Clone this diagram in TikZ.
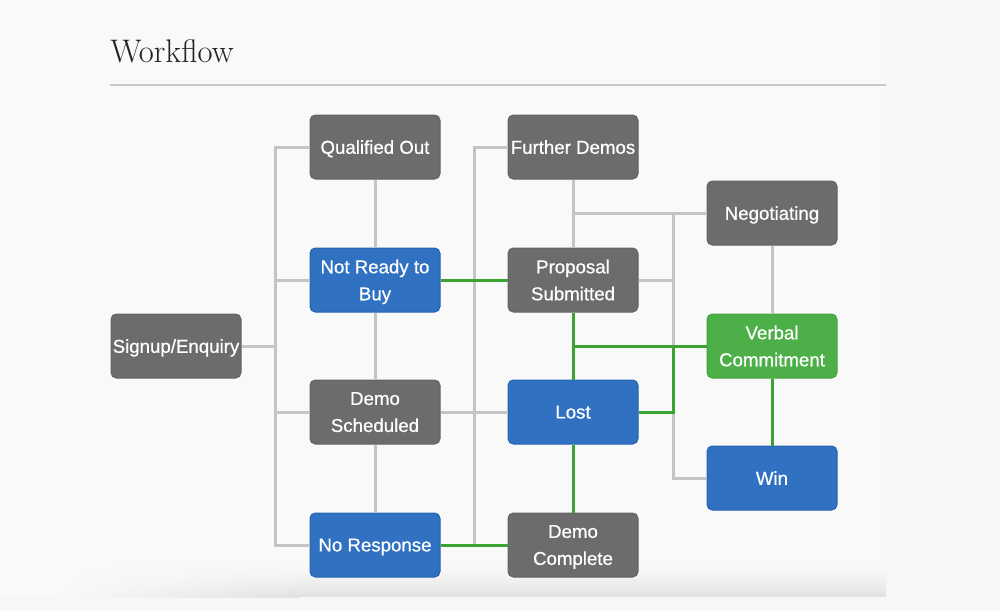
\documentclass[tikz,border=0pt]{standalone}
\usepackage{fontspec}
\setsansfont{Liberation Sans}
\newfontfamily\boxfont{Liberation Sans}[FakeBold=0.6]
\definecolor{pagebg}{HTML}{F7F7F7}
\definecolor{panelbg}{HTML}{F9F9F9}
\definecolor{shadowc}{HTML}{E2E2E2}
\definecolor{boxgray}{HTML}{6C6C6C}
\definecolor{boxgrayedge}{HTML}{636363}
\definecolor{boxblue}{HTML}{3072C1}
\definecolor{boxblueedge}{HTML}{2563B0}
\definecolor{boxgreen}{HTML}{4CAF48}
\definecolor{boxgreenedge}{HTML}{44A340}
\definecolor{linegray}{HTML}{C4C4C4}
\definecolor{linegreen}{HTML}{3AA332}
\definecolor{rulegray}{HTML}{C8C8C8}
\definecolor{titlec}{HTML}{222222}
\tikzset{
  wbox/.style={rounded corners=4pt, minimum width=97.5pt, minimum height=48pt,
    inner sep=0pt, align=center, text=white, text depth=-2.5pt,
    font=\boxfont\fontsize{14}{20.25}\selectfont, line width=0.75pt},
  graybox/.style={wbox, fill=boxgray, draw=boxgrayedge},
  bluebox/.style={wbox, fill=boxblue, draw=boxblueedge},
  greenbox/.style={wbox, fill=boxgreen, draw=boxgreenedge},
  gline/.style={draw=linegray, line width=2.25pt},
  vline/.style={draw=linegreen, line width=2.25pt},
}
\begin{document}
\begin{tikzpicture}[x=0.75pt, y=-0.75pt]
\useasboundingbox (0,0) rectangle (1000,611);
\fill[pagebg] (0,0) rectangle (1000,611);
\fill[panelbg] (0,0) rectangle (886,597);
% bottom shadow, built from thin strips
\foreach \i in {0,...,13} {
  \pgfmathsetmacro{\t}{int(100*(\i/13)^2)}
  \colorlet{stripc}{shadowc!\t!panelbg}
  \shade[left color=panelbg, right color=stripc, shading angle=90] (60,555+3*\i) rectangle (300,558.4+3*\i);
  \fill[stripc] (299.5,555+3*\i) rectangle (886,558.4+3*\i);
}
% title
\node[anchor=base west, inner sep=0pt, text=titlec, font=\fontsize{24.5}{28}\selectfont] (title) at (110,62) {Workflow};
\coordinate (ruleL) at (110,85);
\coordinate (ruleR) at (886,85);
\draw[rulegray, line width=1.2pt] (ruleL) -- (ruleR);

% nodes
\node[graybox] (sig) at (176,346) {Signup/Enquiry};
\node[graybox] (qo) at (375,147) {Qualified Out};
\node[bluebox] (nr) at (375,280) {Not Ready to\\Buy};
\node[graybox] (ds) at (375,412) {Demo\\Scheduled};
\node[bluebox] (nres) at (375,545) {No Response};
\node[graybox] (fd) at (573,147) {Further Demos};
\node[graybox] (ps) at (573,280) {Proposal\\Submitted};
\node[bluebox] (lost) at (573,412) {Lost};
\node[graybox] (dc) at (573,545) {Demo\\Complete};
\node[graybox] (neg) at (772,213) {Negotiating};
\node[greenbox] (vc) at (772,346) {Verbal\\Commitment};
\node[bluebox] (win) at (772,478) {Win};

\coordinate (busL) at (275,0);
\coordinate (busM) at (474,0);
\coordinate (busR) at (673,0);

% gray connectors
\draw[gline] (qo.west) -- (qo.west -| busL) -- (nres.west -| busL) -- (nres.west);
\draw[gline] (sig.east) -- (sig.east -| busL);
\draw[gline] (nr.west) -- (nr.west -| busL);
\draw[gline] (ds.west) -- (ds.west -| busL);
\draw[gline] (qo.south) -- (nr.north);
\draw[gline] (nr.south) -- (ds.north);
\draw[gline] (ds.south) -- (nres.north);
\draw[gline] (fd.west) -- (fd.west -| busM) -- (nres.east -| busM);
\draw[gline] (ds.east) -- (lost.west);
\draw[gline] (fd.south) -- (ps.north);
\draw[gline] (neg.west -| fd.south) -- (neg.west);
\draw[gline] (neg.west -| busR) -- (win.west -| busR) -- (win.west);
\draw[gline] (ps.east) -- (ps.east -| busR);
\draw[gline] (neg.south) -- (vc.north);
% green connectors
\draw[vline] (nr.east) -- (ps.west);
\draw[vline] (nres.east) -- (dc.west);
\draw[vline] (ps.south) -- (lost.north);
\draw[vline] (vc.west -| ps.south) -- (vc.west);
\draw[vline] (lost.east) -- (lost.east -| busR) -- (vc.west -| busR);
\draw[vline] (lost.south) -- (dc.north);
\draw[vline] (vc.south) -- (win.north);
\end{tikzpicture}
\end{document}
